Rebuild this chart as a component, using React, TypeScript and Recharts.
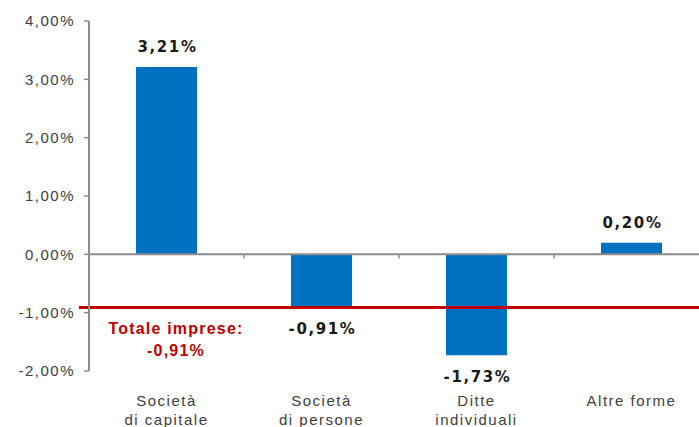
import React from 'react';
import { BarChart, Bar, XAxis, YAxis, ReferenceLine, LabelList } from 'recharts';

const categories = ['Società\ndi capitale', 'Società\ndi persone', 'Ditte\nindividuali', 'Altre forme'];
const values = [3.21, -0.91, -1.73, 0.2];
const totalValue = -0.91;
const totalLabel = 'Totale imprese:';
const yTicks = [-2, -1, 0, 1, 2, 3, 4];
const yDomain: [number, number] = [-2, 4];

const fmt = (v: number) => v.toFixed(2).replace('.', ',') + '%';

const data = categories.map((c, i) => ({ name: c, value: values[i] }));

const AXIS = '#8c8c8c';
const TEXT = '#404040';
const RED = '#C00000';
const BLUE = '#0070C0';

const CatTick = (props: any) => {
  const { x, y, payload } = props;
  const lines = String(payload.value).split('\n');
  return (
    <text x={x} y={y} textAnchor="middle" fill={TEXT} fontFamily="Liberation Sans, Arial" fontSize={15} letterSpacing={1.5}>
      {lines.map((l, i) => (
        <tspan key={i} x={x} dy={i === 0 ? 35 : 19}>{l}</tspan>
      ))}
    </text>
  );
};

const renderLabel = (props: any) => {
  const { x, y, width, height, value } = props;
  const top = Math.min(y, y + height);
  const bottom = Math.max(y, y + height);
  const cy = value >= 0 ? top - 20 : bottom + 21;
  return (
    <text x={x + width / 2 + 1} y={cy} dy="0.36em" textAnchor="middle" fill="#1a1a1a" fontFamily="DejaVu Sans" fontWeight="bold" fontSize={15} letterSpacing={1.6}>
      {fmt(value)}
    </text>
  );
};

const TotalText = (props: any) => {
  const vb = props.viewBox || {};
  const cx = (vb.x || 0) + 87;
  const y = vb.y || 0;
  return (
    <text x={cx} textAnchor="middle" fill={RED} fontFamily="Liberation Sans, Arial" fontWeight="bold" fontSize={16} letterSpacing={1.2}>
      <tspan x={cx} y={y + 20.5} dy="0.36em">{totalLabel}</tspan>
      <tspan x={cx} y={y + 42.5} dy="0.36em">{fmt(totalValue)}</tspan>
    </text>
  );
};

const RedLine = (p: any) => (
  <line x1={p.x1 - 10} y1={p.y1} x2={p.x2} y2={p.y2} stroke={RED} strokeWidth={3} />
);

export default function App() {
  return (
    <div style={{ position: 'absolute', left: 0, top: 0, width: 699, height: 427, overflow: 'hidden', background: '#fff' }}>
      <BarChart width={720} height={427} data={data} margin={{ top: 21, right: 11, bottom: 0, left: 0 }} barSize={61}>
        <YAxis
          domain={yDomain}
          ticks={yTicks}
          type="number"
          width={89}
          tickFormatter={fmt}
          axisLine={{ stroke: AXIS, strokeWidth: 2 }}
          tickLine={{ stroke: AXIS, strokeWidth: 1.5 }}
          tickSize={5}
          tickMargin={9}
          tick={{ fill: TEXT, fontFamily: 'Liberation Sans, Arial', fontSize: 15, letterSpacing: 1.5 }}
          interval={0}
        />
        <XAxis dataKey="name" axisLine={false} tickLine={false} height={56} tickSize={0} tickMargin={0} tick={<CatTick />} interval={0} />
        <ReferenceLine y={0} stroke={AXIS} strokeWidth={2} />
        {categories.map((c) => (
          <ReferenceLine
            key={c}
            segment={[{ x: c, y: 0 }, { x: c, y: -0.07 }]}
            position="end"
            stroke={AXIS}
            strokeWidth={1.5}
          />
        ))}
        <Bar dataKey="value" fill={BLUE} isAnimationActive={false}>
          <LabelList dataKey="value" content={renderLabel} />
        </Bar>
        <ReferenceLine y={totalValue} stroke={RED} strokeWidth={3} shape={RedLine} label={<TotalText />} />
      </BarChart>
    </div>
  );
}
